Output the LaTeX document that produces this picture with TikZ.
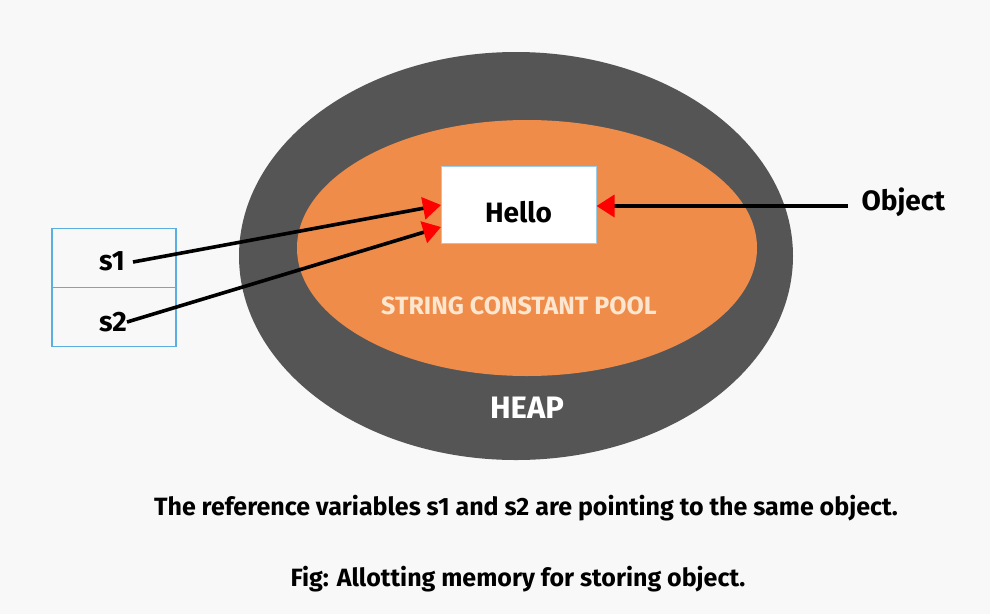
\documentclass[tikz,border=0pt]{standalone}
\usepackage{fontspec}
\setmainfont{Fira Sans}
\usetikzlibrary{arrows.meta}
\definecolor{bg}{HTML}{F8F8F8}
\definecolor{heap}{HTML}{555555}
\definecolor{pool}{HTML}{F08C4A}
\definecolor{boxblue}{HTML}{5AAEE0}
\definecolor{poolText}{HTML}{FCE6CF}
\tikzset{
  ptr/.style={line width=3.6pt, -{Triangle[length=18pt,width=22pt,fill=red,color=red]}},
  varbox/.style={draw=boxblue, line width=1.2pt, fill=bg, minimum width=124pt, minimum height=59pt, inner sep=0pt},
  lbl/.style={font=\bfseries\fontsize{28}{32}\selectfont, text=black},
  captxt/.style={font=\bfseries\fontsize{25}{30}\selectfont, text=black}
}
\begin{document}
\begin{tikzpicture}[x=1pt,y=-1pt]
\fill[bg] (0,0) rectangle (990,614);
\useasboundingbox (0,0) rectangle (990,614);
\fill[heap] (516,256) ellipse [x radius=277, y radius=204];
\fill[pool] (527,248) ellipse [x radius=230, y radius=128];
\node[draw=boxblue!60, line width=1pt, fill=white, minimum width=155pt, minimum height=77pt, inner sep=0pt] (hello) at (518.5,204.5) {};
\node[lbl] at (518.5,212) {Hello};
\node[varbox] (v1) at (114,258) {};
\node[varbox] (v2) at (114,317) {};
\node[lbl] (s1) at (112,261) {s1};
\node[lbl] (s2) at (113,322) {s2};
\coordinate (a1) at (133,262);
\coordinate (a2) at (127,322);
\coordinate (h1) at (441,205);
\coordinate (h2) at (441,227);
\draw[ptr] (a1) -- (h1);
\draw[ptr] (a2) -- (h2);
\node[lbl, anchor=west] (obj) at (858,202) {Object};
\coordinate (o1) at (848,206);
\draw[ptr] (o1) -- (hello.east |- o1);
\node[font=\bfseries\fontsize{25}{30}\selectfont, text=poolText] (pooltxt) at (519,306) {STRING CONSTANT POOL};
\node[font=\bfseries\fontsize{31}{36}\selectfont, text=white] (heaptxt) at (527,408) {HEAP};
\node[captxt] (cap) at (526,508) {The reference variables s1 and s2 are pointing to the same object.};
\node[captxt] (fig) at (518,579) {Fig: Allotting memory for storing object.};
\end{tikzpicture}
\end{document}
